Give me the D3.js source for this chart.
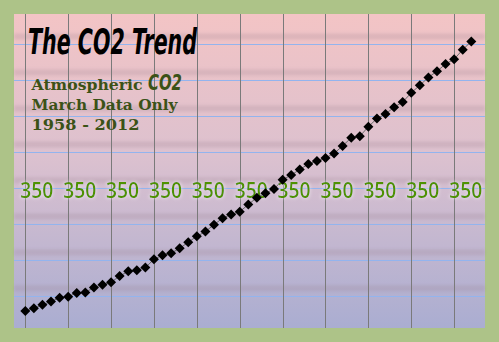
<!DOCTYPE html>
<html>
<head>
<meta charset="utf-8">
<script src="https://cdn.jsdelivr.net/npm/d3@7"></script>
<style>
    body { margin: 0; background: #adc388; overflow: hidden; }
</style>
</head>
<body>
<div id="chart"></div>
<script>

// march readings only (ppm)
const years = [1958, 1959, 1960, 1961, 1962, 1963,
    1966, 1967, 1968, 1969, 1970, 1971, 1972, 1973, 1974, 1975, 1976, 1977, 1978, 1979,
    1980, 1981, 1982, 1983, 1984, 1985, 1986, 1987, 1988, 1989, 1990, 1991, 1992, 1993,
    1994, 1995, 1996, 1997, 1998, 1999, 2000, 2001, 2002, 2003, 2004, 2005, 2006, 2007,
    2008, 2009, 2010, 2011, 2012];
const co2_values = [315.7, 316.5, 317.5, 318.5, 319.6, 319.9,
    321.0, 321.1, 322.6, 323.4, 324.1, 325.9, 327.3, 327.6, 328.4, 330.8, 332.0, 332.6, 334.0, 335.8,
    337.5, 338.9, 340.9, 342.8, 343.9, 344.7, 346.8, 348.8, 350.1, 351.3, 354.0, 355.4, 357.0, 358.6,
    359.5, 360.4, 361.7, 363.9, 366.3, 366.7, 369.5, 371.9, 373.2, 375.2, 376.7, 379.4, 381.6, 383.9,
    385.7, 387.8, 389.2, 392.0, 394.4];

// horizontal guide lines (ppm)
const grid_values = [320, 330.5, 341, 351.5, 362, 372.5, 383, 393.5];
const marker_value = 350;
const marker_labels = ["350", "350", "350", "350", "350", "350", "350", "350", "350", "350", "350"];

const title_text = "The CO2 Trend";
const subtitle_lines = ["Atmospheric", "March Data Only", "1958 - 2012"];
const subtitle_gas = "CO2";

class Chart {

    constructor(chart_name) {
        // constants
        this.width = 499;
        this.height = 342;
        this.frame = 14;

        this.chart_name = chart_name;

        this.x = d3.scalePoint()
            .domain(years)
            .range([25.3, 471.3]);

        this.y = d3.scaleLinear()
            .domain([310.75, 402.4])
            .range([328, 14]);

        d3.select(this.chart_name).html("");
        this._svg = d3.select(this.chart_name)
            .append("svg")
            .attr("width", this.width)
            .attr("height", this.height)
            .style("display", "block");

        this._defs();
        this._background();
        this._grid();
        this._markers();
        this._series();
        this._texts();
    }

    _defs() {
        const defs = this._svg.append("defs");

        const grad = defs.append("linearGradient")
            .attr("id", "back_grad")
            .attr("x1", 0).attr("y1", 0)
            .attr("x2", 0).attr("y2", 1);
        grad.append("stop").attr("offset", 0).attr("stop-color", "#f3c4c5");
        grad.append("stop").attr("offset", 0.45).attr("stop-color", "#dcc1cf");
        grad.append("stop").attr("offset", 1).attr("stop-color", "#aaadd1");

        defs.append("filter")
            .attr("id", "band_blur")
            .attr("x", "-5%").attr("y", "-100%")
            .attr("width", "110%").attr("height", "300%")
            .append("feGaussianBlur")
            .attr("stdDeviation", 1.6);

        // light halo around the 350 labels
        const glow = defs.append("filter")
            .attr("id", "glow")
            .attr("x", "-20%").attr("y", "-40%")
            .attr("width", "140%").attr("height", "180%");
        glow.append("feMorphology")
            .attr("in", "SourceAlpha")
            .attr("operator", "dilate")
            .attr("radius", 1)
            .attr("result", "fat");
        glow.append("feGaussianBlur")
            .attr("in", "fat")
            .attr("stdDeviation", 1.4)
            .attr("result", "soft");
        glow.append("feFlood")
            .attr("flood-color", "#ffffff")
            .attr("flood-opacity", 0.35);
        glow.append("feComposite")
            .attr("in2", "soft")
            .attr("operator", "in")
            .attr("result", "halo");
        const merge = glow.append("feMerge");
        merge.append("feMergeNode").attr("in", "halo");
        merge.append("feMergeNode").attr("in", "SourceGraphic");
    }

    _background() {
        this._svg.append("rect")
            .attr("x", 0).attr("y", 0)
            .attr("width", this.width).attr("height", this.height)
            .attr("fill", "#adc388");

        this._svg.append("rect")
            .attr("x", this.frame).attr("y", this.frame)
            .attr("width", this.width - 2 * this.frame)
            .attr("height", this.height - 2 * this.frame)
            .attr("fill", "url(#back_grad)");
    }

    _grid() {
        const self = this;
        const left = this.frame;
        const right = this.width - this.frame;

        // darker shaded bands sitting above each blue line
        this._svg.append("g")
            .selectAll("rect")
            .data(grid_values)
            .enter().append("rect")
            .attr("x", left)
            .attr("y", function(d) { return self.y(d) - 11; })
            .attr("width", right - left)
            .attr("height", 6)
            .attr("fill", "#9a7f8c")
            .attr("opacity", 0.22)
            .attr("filter", "url(#band_blur)");

        this._svg.append("g")
            .selectAll("line")
            .data(grid_values)
            .enter().append("line")
            .attr("x1", left)
            .attr("x2", right)
            .attr("y1", function(d) { return Math.round(self.y(d)) + 0.5; })
            .attr("y2", function(d) { return Math.round(self.y(d)) + 0.5; })
            .attr("stroke", "#93b4ee")
            .attr("stroke-width", 1);

        // vertical lines on every fifth point
        const v_years = years.filter(function(d, i) { return i % 5 == 0; });
        this._svg.append("g")
            .selectAll("line")
            .data(v_years)
            .enter().append("line")
            .attr("x1", function(d) { return Math.round(self.x(d)) + 0.5; })
            .attr("x2", function(d) { return Math.round(self.x(d)) + 0.5; })
            .attr("y1", this.frame)
            .attr("y2", this.height - this.frame)
            .attr("stroke", "#7a7a7a")
            .attr("stroke-width", 1);
    }

    _markers() {
        const self = this;
        const label_years = years.filter(function(d, i) { return i % 5 == 0; });

        this._svg.append("g")
            .attr("filter", "url(#glow)")
            .selectAll("text")
            .data(marker_labels)
            .enter().append("text")
            .attr("x", function(d, i) { return self.x(label_years[i]) + 11.5; })
            .attr("y", this.y(marker_value) + 4)
            .attr("text-anchor", "middle")
            .attr("font-family", "'Open Sans', sans-serif")
            .attr("font-weight", 600)
            .attr("font-size", 21)
            .attr("fill", "#4f9200")
            .attr("textLength", 33)
            .attr("lengthAdjust", "spacingAndGlyphs")
            .text(function(d) { return d; });
    }

    _series() {
        const self = this;
        const points = years.map(function(d, i) { return {year: d, value: co2_values[i]}; });

        const line = d3.line()
            .x(function(d) { return self.x(d.year); })
            .y(function(d) { return self.y(d.value); });

        this._svg.append("path")
            .datum(points)
            .attr("d", line)
            .attr("fill", "none")
            .attr("stroke", "#6a6a6a")
            .attr("stroke-width", 1);

        const diamond = d3.symbol().type(d3.symbolSquare).size(50);

        this._svg.append("g")
            .selectAll("path")
            .data(points)
            .enter().append("path")
            .attr("d", diamond)
            .attr("transform", function(d) {
                return "translate(" + self.x(d.year) + "," + self.y(d.value) + ") rotate(45)";
            })
            .attr("fill", "#000000");
    }

    _texts() {
        this._svg.append("text")
            .attr("x", 28)
            .attr("y", 54)
            .attr("font-family", "'DejaVu Sans Condensed', 'DejaVu Sans', sans-serif")
            .attr("font-weight", "bold")
            .attr("font-style", "italic")
            .attr("font-size", 36)
            .attr("fill", "#000000")
            .attr("textLength", 169)
            .attr("lengthAdjust", "spacingAndGlyphs")
            .text(title_text);

        const line_y = [90, 110, 129.5];
        const line_len = [111, 146, 108];
        this._svg.append("g")
            .selectAll("text")
            .data(subtitle_lines)
            .enter().append("text")
            .attr("x", 31.5)
            .attr("y", function(d, i) { return line_y[i]; })
            .attr("font-family", "'DejaVu Serif', serif")
            .attr("font-weight", "bold")
            .attr("font-size", 15.5)
            .attr("fill", "#3b5217")
            .attr("textLength", function(d, i) { return line_len[i]; })
            .attr("lengthAdjust", "spacingAndGlyphs")
            .text(function(d) { return d; });

        this._svg.append("text")
            .attr("x", 148)
            .attr("y", 90)
            .attr("font-family", "'DejaVu Sans Condensed', 'DejaVu Sans', sans-serif")
            .attr("font-style", "italic")
            .attr("font-weight", 600)
            .attr("font-size", 21)
            .attr("fill", "#3b5217")
            .attr("textLength", 34)
            .attr("lengthAdjust", "spacingAndGlyphs")
            .text(subtitle_gas);
    }
}

const chart = new Chart("#chart");

</script>
</body>
</html>
